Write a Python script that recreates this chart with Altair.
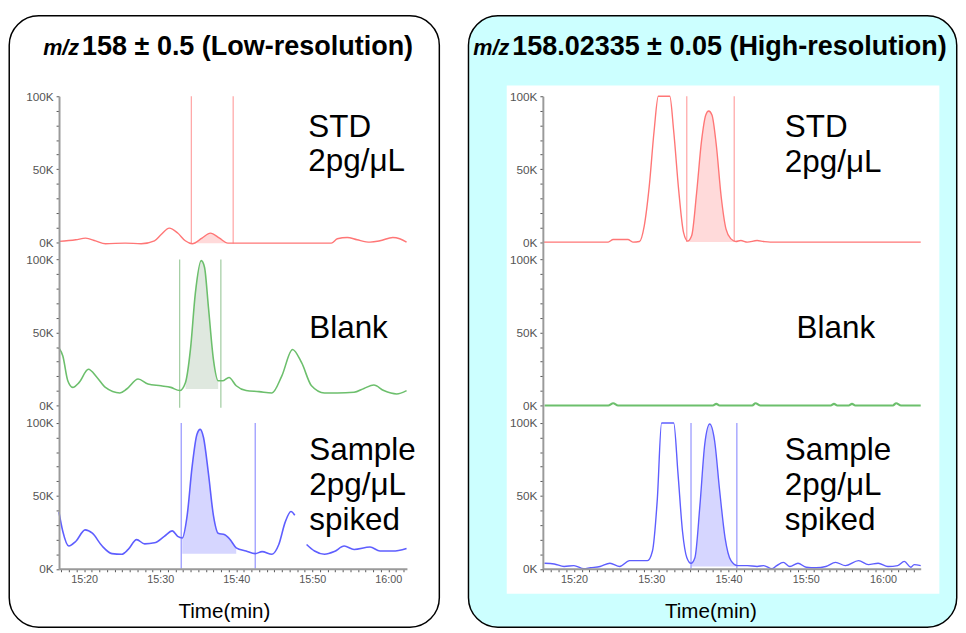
import json
import altair as alt
import pandas as pd

# ---------------- data ----------------
# time = minutes after 15:00, intensity = K counts (0-100K per trace)
x_tick_values = [20, 30, 40, 50, 60]
x_tick_labels = ["15:20", "15:30", "15:40", "15:50", "16:00"]
y_major_values = [0, 50, 100]
y_major_labels = ["0K", "50K", "100K"]

# Low resolution, STD 2pg/uL (red)
low_std_t = [16.7, 18.9, 20.2, 21.5, 22.8, 25.4, 27.5, 29.25, 30.1, 31.2, 32.3, 33.3, 34.2, 35.5,
             36.6, 37.8, 38.9, 39.6, 52.5, 53.3, 54.6, 55.9, 57.6, 58.9, 60.6, 61.5, 62.4]
low_std_v = [0.5, 1.6, 2.7, 0.9, -1.1, -0.7, -1.1, 0.9, 5.0, 9.6, 6.2, 0.9, -1.1, 2.7,
             6.2, 2.7, -0.7, -0.7, -0.7, 2.3, 3.2, 1.6, 0.0, 0.9, 3.2, 2.3, 0.0]
low_std_rules = [34.1, 39.6]
low_std_base = -0.7

# Low resolution, Blank (green)
low_blank_t = [16.69, 17.2, 17.85, 18.5, 19.35, 20.56, 21.7, 22.8, 24.7, 25.6, 27.1, 28.4, 30.1, 31.4,
               32.56, 33.33, 33.98, 34.62, 35.4, 35.83, 36.34, 37.0, 37.63, 38.2, 39.05, 40.0, 41.3,
               43.0, 44.7, 46.0, 47.4, 48.6, 49.9, 51.6, 53.3, 55.5, 56.8, 58.1, 59.4, 61.1, 62.4]
low_blank_v = [39.5, 33.9, 16.9, 12.4, 15.8, 24.8, 19.2, 12.4, 8.6, 11.3, 18.1, 14.7, 13.5, 12.4,
               10.2, 15.8, 38.4, 76.7, 99.3, 94.8, 67.7, 31.6, 16.9, 16.9, 19.2, 13.5, 10.2,
               9.5, 8.6, 20.3, 38.4, 29.3, 13.5, 8.6, 8.6, 9.0, 11.7, 14.0, 10.2, 7.9, 10.2]
low_blank_rules = [32.56, 37.98]
low_blank_base = 11.3

# Low resolution, Sample 2pg/uL spiked (blue); the trace is hidden between 47.7 and 49.25
low_sample_t = [16.69, 17.2, 17.98, 18.92, 20.13, 21.08, 22.37, 23.66, 24.95, 25.8, 26.9, 27.96,
                29.25, 30.54, 31.6, 32.3, 32.9, 33.55, 34.2, 34.84, 35.27, 35.7, 36.34, 37.0,
                37.63, 38.5, 39.2, 40.0, 41.3, 42.5, 43.4, 44.7, 45.6, 46.45, 47.2, 47.7,
                49.25, 50.3, 51.6, 52.9, 54.2, 55.5, 57.6, 58.9, 60.6, 62.4]
low_sample_v = [38.9, 25.6, 15.6, 18.9, 26.7, 24.4, 15.6, 10.4, 10.0, 13.3, 20.0, 17.1,
                17.8, 22.2, 26.0, 22.2, 21.1, 36.7, 70.0, 92.2, 95.6, 90.0, 65.6, 36.7,
                24.4, 23.3, 20.0, 14.4, 12.2, 10.4, 11.8, 10.0, 16.7, 32.2, 39.3, 36.7,
                16.7, 12.2, 10.0, 11.8, 15.6, 13.3, 14.9, 12.2, 12.2, 14.0]
low_sample_gap = 47.7
low_sample_rules = [32.77, 42.5]
low_sample_base = 10.4
low_sample_shade = [32.77, 40.0]

# High resolution, STD (red)
high_std_t = [15.98, 24.44, 25.08, 26.98, 27.62, 28.47, 29.1, 29.74, 30.37, 30.92, 32.4, 32.91,
              33.55, 34.18, 34.73, 35.24, 35.87, 36.51, 37.06, 37.44, 37.86, 38.41, 39.05, 39.68,
              40.32, 40.95, 41.59, 42.43, 43.7, 44.55, 45.4, 64.87]
high_std_v = [0.0, 0.0, 1.8, 1.8, 0.0, 0.4, 11.2, 38.0, 76.0, 100.0, 100.0, 76.0,
              35.8, 6.7, 0.7, 4.5, 33.6, 69.4, 87.2, 89.9, 87.2, 67.1, 31.3, 8.9,
              2.2, 0.4, 1.1, 0.0, 1.1, 0.4, 0.0, 0.0]
high_std_rules = [34.6, 40.74]
high_std_base = 0.0

# High resolution, Blank (green)
high_blank_t = [16.2, 24.44, 25.08, 25.71, 37.99, 38.41, 38.84, 43.07, 43.49, 44.13, 53.23, 53.65,
                54.07, 55.56, 55.98, 56.4, 61.27, 61.69, 62.33, 64.87]
high_blank_v = [0.0, 0.0, 1.5, 0.0, 0.0, 1.1, 0.0, 0.0, 1.5, 0.0, 0.0, 1.1,
                0.0, 0.0, 1.1, 0.0, 0.0, 1.5, 0.0, 0.0]

# High resolution, Sample (blue)
high_sample_t = [16.19, 17.46, 18.73, 20.0, 21.27, 22.12, 23.39, 24.66, 25.93, 27.2, 29.52, 30.16,
                 30.79, 31.34, 32.91, 33.46, 34.05, 34.6, 35.15, 35.66, 36.3, 36.93, 37.57, 38.2,
                 38.84, 39.56, 40.32, 41.16, 42.43, 43.7, 44.55, 45.61, 46.24, 47.09, 47.94, 48.99,
                 50.05, 51.32, 52.59, 53.86, 55.13, 56.83, 58.1, 59.37, 60.63, 61.9, 62.75, 63.6,
                 64.02, 64.87]
high_sample_v = [3.8, 3.3, 1.6, 2.2, 0.0, 0.7, 1.6, 3.8, 1.6, 5.6, 5.6, 12.2,
                 47.8, 100.0, 100.0, 65.6, 25.6, 7.8, 3.8, 7.8, 43.3, 85.6, 99.3, 87.8,
                 54.4, 21.1, 5.6, 2.2, 2.2, 1.6, 2.2, 0.0, 2.2, 4.4, 1.6, 3.8,
                 1.1, 0.7, 1.6, 4.4, 2.2, 5.6, 2.9, 3.8, 1.6, 2.2, 5.1, 1.1,
                 2.9, 2.2]
high_sample_rules = [35.15, 41.08]
high_sample_base = 1.5

# ---------------- layout / styling ----------------
FONT = "Liberation Sans"
OFFSETS = {"top": 224, "mid": 112, "bot": 0}
Y_MAX = 324
PLOT_H = 481.5
LABEL_SIZE = 32

RED = dict(line="#ff7676", fill="#ffdada", rule="#ffa8a8")
GREEN = dict(line="#6cbf6c", fill="#dfe8df", rule="#a6cfa6")
BLUE = dict(line="#5e5eff", fill="#d6d6ff", rule="#9a9aff")

low_panels = [
    dict(off=OFFSETS["top"], t=low_std_t, v=low_std_v, rules=low_std_rules, shade=low_std_rules,
         base=low_std_base, rule_lo=-1, w=1.4, **RED),
    dict(off=OFFSETS["mid"], t=low_blank_t, v=low_blank_v, rules=low_blank_rules,
         shade=[33.3, 37.98], base=low_blank_base, rule_lo=-1.5, w=1.6, **GREEN),
    dict(off=OFFSETS["bot"], t=low_sample_t, v=low_sample_v, rules=low_sample_rules,
         shade=low_sample_shade, base=low_sample_base, rule_lo=0, w=1.6, gap=low_sample_gap, **BLUE),
]
high_panels = [
    dict(off=OFFSETS["top"], t=high_std_t, v=high_std_v, rules=high_std_rules,
         shade=[34.6, 40.95], base=high_std_base, rule_lo=0, w=1.4, **RED),
    dict(off=OFFSETS["mid"], t=high_blank_t, v=high_blank_v, rules=None, shade=None,
         base=0, rule_lo=0, w=2.2, **GREEN),
    dict(off=OFFSETS["bot"], t=high_sample_t, v=high_sample_v, rules=high_sample_rules,
         shade=[35.15, 41.16], base=high_sample_base, rule_lo=0, w=1.4, **BLUE),
]

y_values, y_label_vals, y_label_txt = [], [], []
for off in OFFSETS.values():
    y_values += [off + k for k in range(0, 101, 10)]
    for mv, ml in zip(y_major_values, y_major_labels):
        y_label_vals.append(off + mv)
        y_label_txt.append(ml)

x_label_expr = f"{json.dumps(x_tick_labels)}[indexof({json.dumps(x_tick_values)}, datum.value)] || ''"
y_label_expr = f"{json.dumps(y_label_txt)}[indexof({json.dumps(y_label_vals)}, datum.value)] || ''"

one = pd.DataFrame({"k": [0]})


def column(panels, xdom, width, texts, titles, box, box_fill, inner, title_x):
    xscale = alt.Scale(domain=xdom, nice=False, zero=False)
    yscale = alt.Scale(domain=[0, Y_MAX], nice=False, zero=False)
    minor = list(range(int(xdom[0]) + 1, int(xdom[1]) + 1))
    xaxis = alt.Axis(values=minor, labelExpr=x_label_expr, labelOverlap=False, labelFlush=False,
                     tickSize=3, tickColor="#555555", domainColor="#9a9a9a", domainWidth=2,
                     labelFont=FONT, labelFontSize=11, labelColor="#555555", labelPadding=2,
                     grid=False, zindex=1, title="Time(min)", titleFont=FONT, titleFontSize=21,
                     titleFontWeight="normal", titleColor="black", titleX=title_x, titleY=49.5,
                     titleBaseline="alphabetic", titleAlign="center")
    yaxis = alt.Axis(values=y_values, labelExpr=y_label_expr, labelOverlap=False, labelFlush=False,
                     tickSize=3, tickColor="#555555", domainColor="#9a9a9a", domainWidth=2,
                     labelFont=FONT, labelFontSize=12, labelColor="#555555", labelPadding=3,
                     grid=False, zindex=1, title=None)
    X = alt.X("t:Q", scale=xscale, axis=xaxis)
    Y = alt.Y("y:Q", scale=yscale, axis=yaxis)

    layers = [alt.Chart(one).mark_rect(fill=box_fill, stroke="black", strokeWidth=1.5, cornerRadius=30)
              .encode(x=alt.value(box[0]), x2=alt.value(box[1]), y=alt.value(box[2]), y2=alt.value(box[3]))]
    if inner:
        layers.append(alt.Chart(one).mark_rect(fill="white")
                      .encode(x=alt.value(inner[0]), x2=alt.value(inner[1]),
                              y=alt.value(inner[2]), y2=alt.value(inner[3])))
    for p in panels:
        df = pd.DataFrame({"t": p["t"], "v": p["v"]})
        df["y"] = df["v"] + p["off"]
        gap = p.get("gap")
        df["seg"] = 0 if gap is None else (df["t"] > gap).astype(int)
        if p["shade"]:
            a, b = p["shade"]
            adf = df[(df["t"] >= a) & (df["t"] <= b)].copy()
            adf["y2"] = p["base"] + p["off"]
            layers.append(alt.Chart(adf).mark_area(interpolate="monotone", color=p["fill"], opacity=1)
                          .encode(x=X, y=Y, y2="y2:Q"))
        if p["rules"]:
            rdf = pd.DataFrame({"t": p["rules"]})
            rdf["y"] = p["off"] + 100
            rdf["y2"] = p["off"] + p["rule_lo"]
            layers.append(alt.Chart(rdf).mark_rule(color=p["rule"], strokeWidth=1.3)
                          .encode(x=X, y=Y, y2="y2:Q"))
        layers.append(alt.Chart(df).mark_line(interpolate="monotone", color=p["line"], strokeWidth=p["w"])
                      .encode(x=X, y=Y, detail="seg:N"))
    for txt, tx, ty in texts:
        layers.append(alt.Chart(one).mark_text(text=txt, align="left", baseline="alphabetic", font=FONT,
                                               fontSize=LABEL_SIZE, color="black")
                      .encode(x=alt.value(tx), y=alt.value(ty)))
    (it_txt, it_x), (rest_txt, rest_x), ty = titles
    layers.append(alt.Chart(one).mark_text(text=it_txt, align="right", baseline="alphabetic", font=FONT,
                                           fontSize=22, fontWeight="bold", fontStyle="italic", color="black")
                  .encode(x=alt.value(it_x), y=alt.value(ty)))
    layers.append(alt.Chart(one).mark_text(text=rest_txt, align="left", baseline="alphabetic", font=FONT,
                                           fontSize=27.5, fontWeight="bold", color="black")
                  .encode(x=alt.value(rest_x), y=alt.value(ty)))
    return alt.layer(*layers).properties(width=width, height=PLOT_H)


left = column(
    low_panels, [16.7, 62.45], 354.5,
    [("STD", 254, 41), ("2pg/μL", 254, 76.5), ("Blank", 255, 246.7),
     ("Sample", 255, 371), ("2pg/μL", 255, 406.7), ("spiked", 255, 441.5)],
    (("m/z", 20.5), ("158 ± 0.5 (Low-resolution)", 23.5), -42),
    (-50.75, 387.5, -82, 541), "white", None, 168,
)
right = column(
    high_panels, [15.98, 64.87], 385,
    [("STD", 246.5, 41), ("2pg/μL", 246.5, 76.7), ("Blank", 258.5, 246.7),
     ("Sample", 246.5, 371), ("2pg/μL", 246.5, 406.7), ("spiked", 246.5, 442)],
    (("m/z", -34.3), ("158.02335 ± 0.05 (High-resolution)", -31.3), -42),
    (-75.8, 421.7, -82, 541), "#ccffff", (-36.8, 404, -11, 507), 170.7,
)

chart = (
    alt.hconcat(left, right, spacing=26)
    .properties(padding={"left": 0, "top": 0, "right": 0, "bottom": 0})
    .configure_view(stroke="transparent")
)

chart.save("out.html", embed_options={"renderer": "svg", "actions": False})
